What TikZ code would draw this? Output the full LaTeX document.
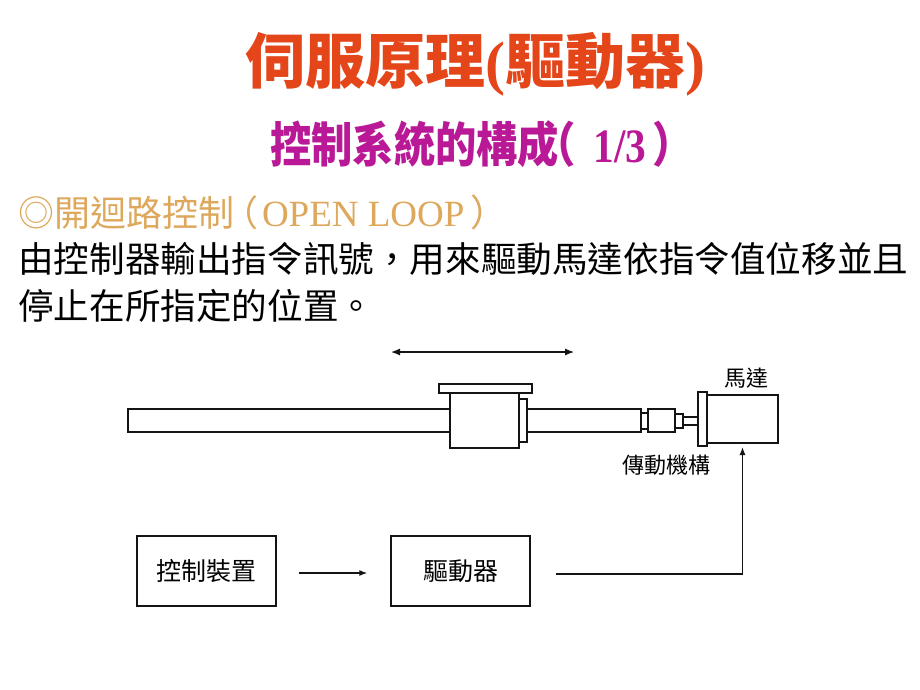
\documentclass[tikz,border=0pt]{standalone}
\usepackage{fontspec}
\usepackage{graphicx}
\setmainfont{Liberation Serif}
\newfontfamily\cjk{Noto Sans CJK TC}
\usetikzlibrary{arrows.meta}
\definecolor{titlered}{RGB}{228,70,26}
\definecolor{submag}{RGB}{185,25,150}
\definecolor{gold}{RGB}{222,168,92}
\definecolor{ink}{RGB}{20,20,20}
\begin{document}
\begin{tikzpicture}[x=1pt,y=-1pt,
  part/.style={draw=ink, line width=1.1pt, fill=white, rectangle, inner sep=0pt, outer sep=0pt, anchor=north west},
  blockbox/.style={draw=ink, line width=1.4pt, rectangle, minimum width=139pt, minimum height=70pt, inner sep=0pt, font=\cjk\fontsize{25}{25}\selectfont},
  lbl/.style={inner sep=0pt, anchor=base west},
  conn/.style={draw=ink, line width=1.2pt},
  tip/.style={-{Latex[length=8pt,width=6pt]}}
]
\useasboundingbox[fill=white] (0,0) rectangle (920,690);

% titles
\node[anchor=base, inner sep=0pt, text=titlered, font=\fontsize{60}{60}\selectfont\bfseries] (title) at (475,84) {\cjk 伺服原理\rmfamily(\cjk 驅動器\rmfamily)};
\node[lbl, text=submag, font=\fontsize{48}{48}\selectfont\bfseries] (sub) at (270,162) {\scalebox{0.86}[1]{\cjk 控制系統的構成\kern-0.6em（\rmfamily\kern0.44em 1/3\cjk\kern0.15em ）}};

% body text
\node[lbl, text=gold, font=\fontsize{36}{36}\selectfont] (open) at (18,226) {\cjk ◎開迴路控制\kern-0.33em（\rmfamily\fontsize{37}{37}\selectfont\kern0.1em OPEN LOOP\cjk\kern0.15em ）};
\node[lbl, text=black, font=\cjk\fontsize{35.6}{35.6}\selectfont] (body1) at (18,272.5) {由控制器輸出指令訊號，用來驅動馬達依指令值位移並且};
\node[lbl, text=black, font=\cjk\fontsize{35.6}{35.6}\selectfont] (body2) at (18,319.5) {停止在所指定的位置。};

% mechanism
\node[part, minimum width=322pt, minimum height=23pt] (rodL) at (128,409) {};
\node[part, minimum width=114pt, minimum height=23pt] (rodR) at (527,409) {};
\node[part, minimum width=93pt, minimum height=9pt] (plate) at (439,384) {};
\node[part, minimum width=69pt, minimum height=55pt] (block) at (450,393) {};
\node[part, minimum width=8pt, minimum height=43pt] (bflange) at (519,399) {};
\node[part, minimum width=7pt, minimum height=16pt] (cpL) at (641,413) {};
\node[part, minimum width=27pt, minimum height=23pt] (cpB) at (648,409) {};
\node[part, minimum width=8pt, minimum height=14pt] (cpR) at (675,414) {};
\node[part, minimum width=15pt, minimum height=8pt] (shaft) at (683,417) {};
\node[part, minimum width=9pt, minimum height=54pt] (mflange) at (698,392) {};
\node[part, minimum width=71pt, minimum height=48pt] (motor) at (707,395) {};

\node[lbl, font=\cjk\fontsize{22}{22}\selectfont] (lmotor) at (724,386.5) {馬達};
\node[lbl, font=\cjk\fontsize{22}{22}\selectfont] (ltrans) at (622,473.5) {傳動機構};

% movement arrow
\coordinate (mvL) at (391,352);
\coordinate (mvR) at (574,352);
\draw[conn, {Latex[length=9pt,width=7pt]}-{Latex[length=9pt,width=7pt]}] (mvL) -- (mvR);

% block diagram
\node[blockbox] (ctrl) at (206.5,571) {控制裝置};
\node[blockbox] (drv) at (460.5,571) {驅動器};
\draw[conn, tip, shorten <=22pt, shorten >=23pt] ([yshift=-2pt]ctrl.east) -- ([yshift=-2pt]drv.west);
\coordinate (sig) at (556,574);
\draw[conn, tip, shorten >=4pt] (sig) -| (motor.south);
\end{tikzpicture}
\end{document}
